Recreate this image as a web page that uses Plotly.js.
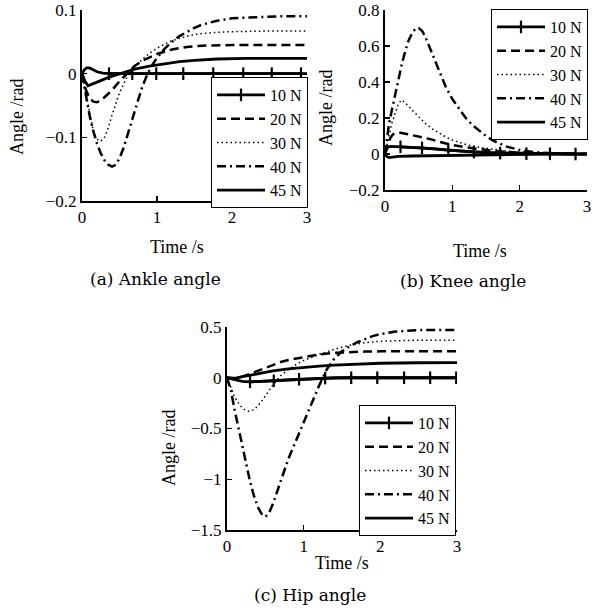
<!DOCTYPE html>
<html>
<head>
<meta charset="utf-8">
<script src="https://cdn.plot.ly/plotly-3.0.1.min.js"></script>
<style>
  html, body { margin: 0; padding: 0; background: #fff; }
  #chart { width: 596px; height: 612px; }
</style>
</head>
<body>
<div id="chart"></div>
<script>
// ---------------- DATA ----------------
const seriesNames = ["10 N", "20 N", "30 N", "40 N", "45 N"];

// (a) Ankle angle
const ankle_t10 = [0, 0.03, 0.06, 0.1, 0.15, 0.2, 0.28, 0.36, 0.67, 0.99, 1.35, 1.75, 2.15, 2.53, 2.92, 3.0];
const ankle_v10 = [0, 0.006, 0.009, 0.009, 0.006, 0.003, 0.001, 0, 0, 0, 0, 0, 0, 0, 0, 0];
const ankle_marks10 = [0.36, 0.67, 0.99, 1.35, 1.75, 2.15, 2.53, 2.92];
const ankle_t20 = [0, 0.05, 0.1, 0.15, 0.2, 0.25, 0.3, 0.4, 0.5, 0.6, 0.7, 0.8, 0.9, 1.0, 1.2, 1.4, 1.6, 2.0, 2.5, 3.0];
const ankle_v20 = [0, -0.025, -0.038, -0.044, -0.045, -0.042, -0.037, -0.026, -0.012, 0, 0.012, 0.02, 0.026, 0.031, 0.038, 0.042, 0.044, 0.045, 0.045, 0.045];
const ankle_t30 = [0, 0.05, 0.1, 0.15, 0.2, 0.25, 0.3, 0.35, 0.4, 0.5, 0.6, 0.7, 0.8, 0.9, 1.0, 1.2, 1.4, 1.6, 1.8, 2.0, 2.5, 3.0];
const ankle_v30 = [0, -0.03, -0.065, -0.09, -0.103, -0.106, -0.1, -0.085, -0.065, -0.03, -0.005, 0.01, 0.022, 0.032, 0.04, 0.052, 0.059, 0.063, 0.065, 0.066, 0.067, 0.067];
const ankle_t40 = [0, 0.05, 0.1, 0.15, 0.2, 0.25, 0.3, 0.35, 0.4, 0.45, 0.5, 0.55, 0.6, 0.65, 0.7, 0.75, 0.8, 0.85, 0.9, 0.95, 1.0, 1.1, 1.2, 1.3, 1.4, 1.5, 1.6, 1.8, 2.0, 2.3, 2.6, 3.0];
const ankle_v40 = [0, -0.035, -0.065, -0.09, -0.11, -0.125, -0.136, -0.143, -0.146, -0.143, -0.133, -0.118, -0.1, -0.08, -0.06, -0.04, -0.022, -0.007, 0.006, 0.016, 0.025, 0.039, 0.05, 0.059, 0.066, 0.072, 0.077, 0.083, 0.087, 0.089, 0.09, 0.09];
const ankle_t45 = [0, 0.04, 0.08, 0.15, 0.25, 0.35, 0.45, 0.55, 0.7, 0.9, 1.1, 1.3, 1.5, 1.8, 2.2, 2.6, 3.0];
const ankle_v45 = [0, -0.012, -0.019, -0.016, -0.011, -0.006, -0.002, 0.002, 0.007, 0.012, 0.016, 0.019, 0.021, 0.023, 0.024, 0.024, 0.024];

// (b) Knee angle
const knee_t10 = [0, 0.02, 0.05, 0.1, 0.23, 0.4, 0.55, 0.75, 0.94, 1.13, 1.32, 1.5, 1.71, 2.1, 2.45, 2.83, 3.0];
const knee_v10 = [0, 0.025, 0.04, 0.042, 0.04, 0.037, 0.034, 0.028, 0.022, 0.016, 0.011, 0.008, 0.005, 0.002, 0.001, 0, 0];
const knee_marks10 = [0.23, 0.55, 0.94, 1.32, 1.71, 2.1, 2.45, 2.83];
const knee_t20 = [0, 0.04, 0.08, 0.12, 0.18, 0.25, 0.3, 0.4, 0.5, 0.6, 0.7, 0.8, 1.0, 1.2, 1.4, 1.6, 1.8, 2.0, 2.5, 3.0];
const knee_v20 = [0, 0.05, 0.09, 0.11, 0.118, 0.117, 0.113, 0.105, 0.097, 0.09, 0.08, 0.068, 0.05, 0.037, 0.027, 0.018, 0.012, 0.007, 0.002, 0];
const knee_t30 = [0, 0.03, 0.07, 0.1, 0.15, 0.2, 0.25, 0.3, 0.4, 0.5, 0.6, 0.7, 0.8, 0.9, 1.0, 1.2, 1.4, 1.6, 1.8, 2.0, 2.5, 3.0];
const knee_v30 = [0, 0.06, 0.12, 0.17, 0.23, 0.28, 0.30, 0.285, 0.245, 0.205, 0.17, 0.14, 0.115, 0.095, 0.078, 0.053, 0.037, 0.025, 0.016, 0.01, 0.003, 0];
const knee_t40 = [0, 0.03, 0.06, 0.1, 0.15, 0.2, 0.25, 0.3, 0.35, 0.4, 0.45, 0.5, 0.55, 0.6, 0.7, 0.8, 0.9, 1.0, 1.1, 1.2, 1.3, 1.4, 1.5, 1.6, 1.8, 2.0, 2.2, 2.5, 3.0];
const knee_v40 = [0, 0.1, 0.17, 0.24, 0.33, 0.42, 0.5, 0.57, 0.63, 0.67, 0.695, 0.70, 0.685, 0.65, 0.56, 0.46, 0.375, 0.305, 0.25, 0.2, 0.16, 0.128, 0.1, 0.075, 0.042, 0.022, 0.011, 0.004, 0];
const knee_t45 = [0, 0.03, 0.06, 0.1, 0.2, 0.4, 0.7, 1.0, 1.4, 1.8, 2.2, 2.6, 3.0];
const knee_v45 = [0, -0.015, -0.02, -0.018, -0.013, -0.011, -0.009, -0.007, -0.005, -0.003, -0.002, -0.001, 0];

// (c) Hip angle
const hip_t10 = [0, 0.1, 0.2, 0.3, 0.45, 0.61, 0.78, 0.94, 1.1, 1.28, 1.45, 1.62, 1.96, 2.31, 2.65, 2.99, 3.0];
const hip_v10 = [0, -0.02, -0.035, -0.04, -0.038, -0.03, -0.022, -0.015, -0.008, -0.003, 0, 0, 0, 0, 0, 0, 0];
const hip_marks10 = [0.3, 0.61, 0.94, 1.28, 1.62, 1.96, 2.31, 2.65, 2.99];
const hip_t20 = [0, 0.1, 0.2, 0.3, 0.4, 0.5, 0.6, 0.7, 0.8, 0.9, 1.0, 1.2, 1.4, 1.6, 1.8, 2.0, 2.5, 3.0];
const hip_v20 = [0, -0.01, 0.01, 0.04, 0.07, 0.1, 0.13, 0.155, 0.175, 0.19, 0.205, 0.23, 0.245, 0.253, 0.258, 0.26, 0.26, 0.26];
const hip_t30 = [0, 0.05, 0.1, 0.15, 0.2, 0.25, 0.3, 0.35, 0.4, 0.5, 0.6, 0.7, 0.8, 0.9, 1.0, 1.2, 1.4, 1.6, 1.8, 2.0, 2.5, 3.0];
const hip_v30 = [0, -0.1, -0.19, -0.25, -0.3, -0.325, -0.33, -0.315, -0.28, -0.18, -0.07, 0.02, 0.08, 0.13, 0.17, 0.23, 0.28, 0.32, 0.345, 0.36, 0.37, 0.37];
const hip_t40 = [0, 0.05, 0.1, 0.15, 0.2, 0.25, 0.3, 0.35, 0.4, 0.45, 0.5, 0.55, 0.6, 0.7, 0.8, 0.9, 1.0, 1.1, 1.2, 1.3, 1.4, 1.5, 1.6, 1.7, 1.8, 1.9, 2.0, 2.2, 2.5, 3.0];
const hip_v40 = [0, -0.12, -0.32, -0.5, -0.68, -0.86, -1.02, -1.16, -1.27, -1.34, -1.37, -1.33, -1.24, -1.02, -0.8, -0.62, -0.44, -0.26, -0.08, 0.08, 0.19, 0.26, 0.31, 0.35, 0.38, 0.41, 0.43, 0.455, 0.47, 0.47];
const hip_t45 = [0, 0.1, 0.2, 0.3, 0.4, 0.5, 0.6, 0.8, 1.0, 1.2, 1.4, 1.6, 1.8, 2.0, 2.5, 3.0];
const hip_v45 = [0, -0.005, 0.01, 0.025, 0.04, 0.055, 0.068, 0.088, 0.103, 0.115, 0.125, 0.133, 0.139, 0.143, 0.148, 0.15];

// axis tick settings
const xTickStep = 1;
const ankleRange = [-0.2, 0.1], ankleStep = 0.1;
const kneeRange = [-0.2, 0.8], kneeStep = 0.2;
const hipRange = [-1.5, 0.5], hipStep = 0.5;

const captions = ["(a) Ankle angle", "(b) Knee angle", "(c) Hip angle"];
const xTitle = "Time /s";
const yTitle = "Angle /rad";

// ---------------- STYLE ----------------
const W = 596, H = 612;
const serif = "Liberation Serif";
const styles = [
  null, // 10 N handled separately
  {width: 2.5, dash: "9px,5px"},
  {width: 1.5, dash: "1.5px,3px"},
  {width: 2.5, dash: "9px,4px,2px,4px"},
  {width: 2.8, dash: "solid"}
];

const traces = [];
function panel(xa, ya, leg, t10, v10, marks, rest) {
  traces.push({x: t10, y: v10, xaxis: xa, yaxis: ya, mode: "lines", showlegend: false,
    legendgroup: leg + "10", line: {color: "black", width: 2.8}, hoverinfo: "skip"});
  const mx = [], my = [];
  t10.forEach((t, i) => { if (marks.includes(t)) { mx.push(t); my.push(v10[i]); } });
  traces.push({x: mx, y: my, xaxis: xa, yaxis: ya, mode: "lines+markers", name: seriesNames[0],
    legend: leg, legendgroup: leg + "10",
    line: {color: "black", width: 2.8},
    marker: {symbol: "line-ns-open", size: 9, color: "black", line: {width: 2.2, color: "black"}}});
  rest.forEach((s, k) => {
    traces.push({x: s[0], y: s[1], xaxis: xa, yaxis: ya, mode: "lines", name: seriesNames[k + 1],
      legend: leg, line: Object.assign({color: "black"}, styles[k + 1])});
  });
}
panel("x", "y", "legend", ankle_t10, ankle_v10, ankle_marks10,
  [[ankle_t20, ankle_v20], [ankle_t30, ankle_v30], [ankle_t40, ankle_v40], [ankle_t45, ankle_v45]]);
panel("x2", "y2", "legend2", knee_t10, knee_v10, knee_marks10,
  [[knee_t20, knee_v20], [knee_t30, knee_v30], [knee_t40, knee_v40], [knee_t45, knee_v45]]);
panel("x3", "y3", "legend3", hip_t10, hip_v10, hip_marks10,
  [[hip_t20, hip_v20], [hip_t30, hip_v30], [hip_t40, hip_v40], [hip_t45, hip_v45]]);

const px = v => v / W;
const py = v => 1 - v / H;

function xAxis(d0, d1, anchor) {
  return {domain: [px(d0), px(d1)], range: [0, 3], dtick: xTickStep, tick0: 0, anchor: anchor,
    showline: true, linewidth: 2, linecolor: "black", ticks: "inside", ticklen: 5, tickwidth: 1.5,
    tickcolor: "black", showgrid: false, zeroline: false, ticklabeloverflow: "allow",
    tickfont: {family: serif, size: 17, color: "black"}};
}
function yAxis(top, bottom, range, step, anchor) {
  return {domain: [py(bottom), py(top)], range: range, dtick: step, tick0: 0, anchor: anchor,
    showline: true, linewidth: 2, linecolor: "black", ticks: "inside", ticklen: 5, tickwidth: 1.5,
    tickcolor: "black", showgrid: false, zeroline: false, ticklabeloverflow: "allow",
    tickfont: {family: serif, size: 17, color: "black"}};
}
function legendAt(right, top) {
  return {x: px(right), xanchor: "right", y: py(top), yanchor: "top", bgcolor: "white",
    bordercolor: "black", borderwidth: 1, traceorder: "normal", tracegroupgap: 0, itemwidth: 48,
    font: {family: serif, size: 16, color: "black"}};
}
function ann(text, x, y, opts) {
  return Object.assign({text: text, x: px(x), y: py(y), xref: "paper", yref: "paper",
    xanchor: "center", yanchor: "middle", showarrow: false,
    font: {family: serif, size: 18, color: "black"}}, opts || {});
}
const capFont = {family: "DejaVu Serif", size: 17, color: "black"};

const layout = {
  width: W, height: H, margin: {l: 0, r: 0, t: 0, b: 0},
  paper_bgcolor: "white", plot_bgcolor: "white",
  xaxis: xAxis(82, 307, "y"),
  yaxis: yAxis(10, 201, ankleRange, ankleStep, "x"),
  xaxis2: xAxis(385, 587, "y2"),
  yaxis2: yAxis(10, 190, kneeRange, kneeStep, "x2"),
  xaxis3: xAxis(227, 457, "y3"),
  yaxis3: yAxis(327, 530, hipRange, hipStep, "x3"),
  legend: legendAt(308, 77),
  legend2: legendAt(588, 9),
  legend3: legendAt(456, 405),
  annotations: [
    ann(xTitle, 177, 247), ann(yTitle, 17, 117, {textangle: -90}),
    ann(xTitle, 480, 251), ann(yTitle, 326, 108, {textangle: -90}),
    ann(xTitle, 342, 563), ann(yTitle, 169, 448, {textangle: -90}),
    ann(captions[0], 155, 279, {font: capFont}),
    ann(captions[1], 463, 281, {font: capFont}),
    ann(captions[2], 310, 595, {font: capFont})
  ],
  showlegend: true
};

Plotly.newPlot("chart", traces, layout, {displayModeBar: false, staticPlot: true});
</script>
</body>
</html>
